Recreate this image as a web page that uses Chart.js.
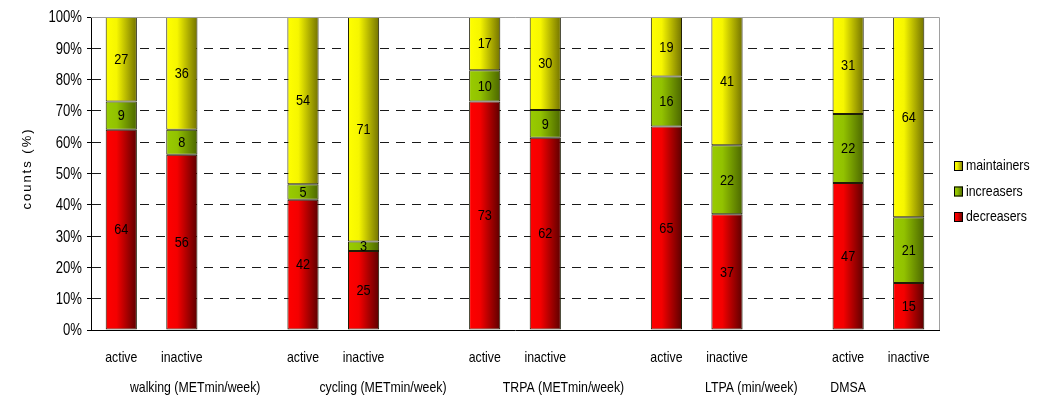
<!DOCTYPE html>
<html>
<head>
<meta charset="utf-8">
<script src="https://cdn.jsdelivr.net/npm/chart.js@4/dist/chart.umd.min.js"></script>
<style>
  html, body { margin: 0; padding: 0; background: #fff; }
  #wrap { width: 1043px; height: 398px; position: relative; }
</style>
</head>
<body>
<div id="wrap"><canvas id="c" width="1043" height="398"></canvas></div>
<script>
// Category slots: each activity has an "active" and "inactive" bar, separated by an empty slot.
const categories = ['active', 'inactive', '', 'active', 'inactive', '', 'active', 'inactive', '',
                    'active', 'inactive', '', 'active', 'inactive'];

// Counts per group (null = spacer slot)
const decreasers  = [64, 56, null, 42, 25, null, 73, 62, null, 65, 37, null, 47, 15];
const increasers  = [ 9,  8, null,  5,  3, null, 10,  9, null, 16, 22, null, 22, 21];
const maintainers = [27, 36, null, 54, 71, null, 17, 30, null, 19, 41, null, 31, 64];

const groupLabels = ['walking (METmin/week)', 'cycling (METmin/week)', 'TRPA (METmin/week)',
                     'LTPA (min/week)', 'DMSA'];

const yTickValues = [0, 10, 20, 30, 40, 50, 60, 70, 80, 90, 100];

// Totals per slot, used to stack each bar to 100 %
const totals = categories.map((_, i) =>
  decreasers[i] == null ? null : decreasers[i] + increasers[i] + maintainers[i]);
const toPercent = arr => arr.map((v, i) => v == null ? null : v / totals[i] * 100);

const FONT = "'Liberation Sans', Arial, sans-serif";
const CONDENSE = 0.82;   // horizontal squeeze for the narrow lettering

// Horizontal shading: bright on the left, darkened toward the right edge
const shades = {
  decreasers:  ['#ff0000', '#f40000', '#5c0000'],
  increasers:  ['#99cc00', '#92c200', '#4b6600'],
  maintainers: ['#ffff00', '#f6f600', '#727200']
};

const BAR_PCT = 0.515;

function barGradient(ctx, key) {
  const chart = ctx.chart;
  const area = chart.chartArea;
  const stops = shades[key];
  if (!area || ctx.dataIndex == null) return stops[0];
  const xs = chart.scales.x;
  const slot = area.width / categories.length;
  const w = slot * BAR_PCT;
  const cx = xs.getPixelForValue(ctx.dataIndex);
  const g = chart.ctx.createLinearGradient(cx - w / 2, 0, cx + w / 2, 0);
  g.addColorStop(0, stops[0]);
  g.addColorStop(0.35, stops[1]);
  g.addColorStop(1, stops[2]);
  return g;
}

function makeDataset(label, counts, key) {
  return {
    label: label,
    data: toPercent(counts),
    counts: counts,
    shadeKey: key,
    backgroundColor: ctx => barGradient(ctx, key),
    borderColor: '#1e1e08',
    borderWidth: 1,
    borderSkipped: false,
    categoryPercentage: 1,
    barPercentage: BAR_PCT
  };
}

// Condensed text: regular face squeezed horizontally
function narrowText(ctx, text, x, y, size, align) {
  ctx.save();
  ctx.translate(x, y);
  ctx.scale(CONDENSE, 1);
  ctx.font = size + 'px ' + FONT;
  ctx.textAlign = align || 'center';
  ctx.textBaseline = 'middle';
  ctx.fillStyle = '#000';
  ctx.fillText(text, 0, 0);
  ctx.restore();
}

// Labels, legend, frame and captions drawn on top of the chart
const decorations = {
  id: 'decorations',
  afterDatasetsDraw(chart) {
    const ctx = chart.ctx;
    // value labels centred in every segment
    chart.data.datasets.forEach((ds, di) => {
      const meta = chart.getDatasetMeta(di);
      meta.data.forEach((el, i) => {
        const v = ds.counts[i];
        if (v == null) return;
        narrowText(ctx, String(v), el.x, (el.y + el.base) / 2 + 0.5, 15.5, 'center');
      });
    });
  },
  afterDraw(chart) {
    const ctx = chart.ctx;
    const a = chart.chartArea;
    const xs = chart.scales.x;
    const ys = chart.scales.y;
    ctx.save();

    // light frame on top and right of the plot
    ctx.strokeStyle = '#a0a0a0';
    ctx.lineWidth = 1;
    ctx.beginPath();
    ctx.moveTo(a.left, Math.round(a.top) + 0.5);
    ctx.lineTo(Math.round(a.right) + 0.5, Math.round(a.top) + 0.5);
    ctx.lineTo(Math.round(a.right) + 0.5, a.bottom);
    ctx.stroke();

    // y tick labels at the scale's tick positions
    ys.ticks.forEach((t, i) => {
      narrowText(ctx, t.value + '%', a.left - 9, ys.getPixelForTick(i) + 1, 16, 'right');
    });

    // x category labels at the scale's tick positions
    xs.ticks.forEach((t, i) => {
      const lbl = categories[i];
      if (lbl) narrowText(ctx, lbl, xs.getPixelForTick(i), a.bottom + 27.5, 15, 'center');
    });

    // group captions under the category labels (anchored in slot units)
    const captionAt = [1.22, 4.32, 7.3, 10.4, 12];
    groupLabels.forEach((t, i) => {
      narrowText(ctx, t, xs.getPixelForValue(captionAt[i]), a.bottom + 58, 15, 'center');
    });

    // y axis title
    ctx.save();
    ctx.translate(27, (a.top + a.bottom) / 2 - 5);
    ctx.rotate(-Math.PI / 2);
    ctx.font = '13px ' + FONT;
    ctx.textAlign = 'center';
    ctx.textBaseline = 'middle';
    ctx.fillStyle = '#000';
    if ('letterSpacing' in ctx) ctx.letterSpacing = '2px';
    ctx.fillText('counts (%)', 0, 0);
    ctx.restore();

    // legend (top item = top segment)
    const items = chart.data.datasets.slice().reverse();
    const lx = a.right + 15;
    let ly = 166;
    items.forEach(ds => {
      const st = shades[ds.shadeKey];
      const g = ctx.createLinearGradient(lx, 0, lx + 9, 0);
      g.addColorStop(0, st[0]);
      g.addColorStop(0.35, st[1]);
      g.addColorStop(1, st[2]);
      ctx.fillStyle = g;
      ctx.fillRect(lx, ly - 5, 9, 10);
      ctx.strokeStyle = '#000';
      ctx.lineWidth = 1;
      ctx.strokeRect(lx + 0.5, ly - 4.5, 8, 9);
      narrowText(ctx, ds.label, lx + 12, ly, 15, 'left');
      ly += 25.5;
    });
    ctx.restore();
  }
};

new Chart(document.getElementById('c'), {
  type: 'bar',
  data: {
    labels: categories,
    datasets: [
      makeDataset('decreasers', decreasers, 'decreasers'),
      makeDataset('increasers', increasers, 'increasers'),
      makeDataset('maintainers', maintainers, 'maintainers')
    ]
  },
  options: {
    responsive: false,
    animation: false,
    layout: { padding: { top: 17, right: 104, left: 0, bottom: 0 } },
    plugins: { legend: { display: false }, tooltip: { enabled: false } },
    scales: {
      x: {
        stacked: true,
        offset: true,
        grid: { display: true, drawOnChartArea: false, drawTicks: false },
        border: { display: true, color: '#000', width: 1 },
        ticks: { display: false, autoSkip: false, maxRotation: 0 },
        afterFit(scale) { scale.height = 68; }
      },
      y: {
        stacked: true,
        min: 0,
        max: 100,
        afterBuildTicks(scale) { scale.ticks = yTickValues.map(v => ({ value: v })); },
        grid: {
          color: c => (c.tick && (c.tick.value === 0 || c.tick.value === 100)) ? 'rgba(0,0,0,0)' : '#1a1a1a',
          lineWidth: 1,
          drawTicks: true,
          tickLength: 4,
          tickColor: '#000',
          tickBorderDash: []
        },
        border: { display: true, color: '#000', width: 1, dash: [9, 7] },
        ticks: { display: false },
        afterFit(scale) { scale.width = 91; }
      }
    }
  },
  plugins: [decorations]
});
</script>
</body>
</html>
